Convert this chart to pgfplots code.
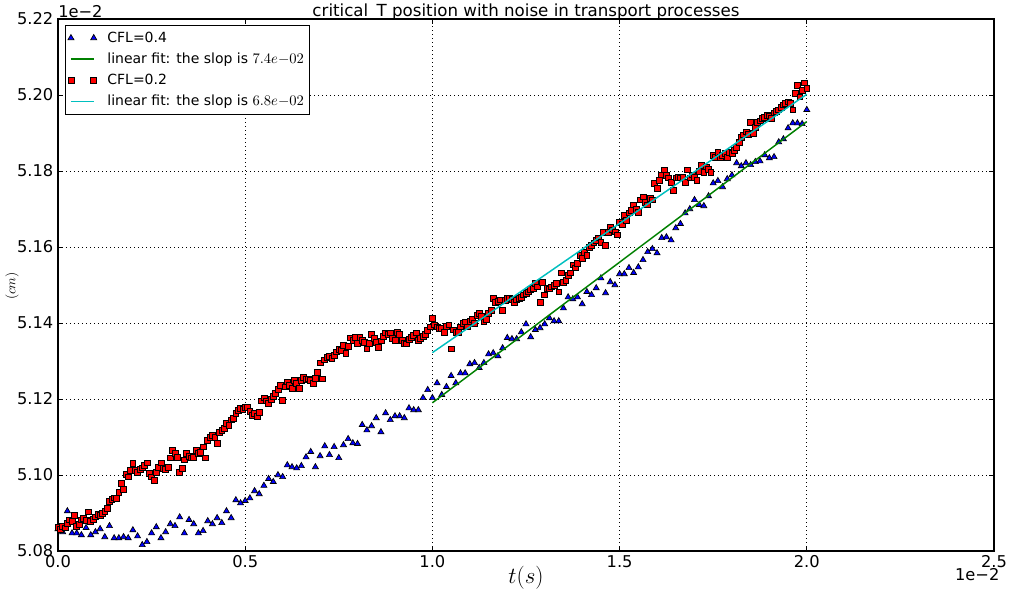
\documentclass[border=0pt]{standalone}
\usepackage{fontspec}
\setmainfont{DejaVu Sans}
\usepackage{pgfplots}
\pgfplotsset{compat=1.18}
\usepackage{pgfplotstable}

\definecolor{mplgreen}{rgb}{0,0.5,0}
\definecolor{mplcyan}{rgb}{0,0.75,0.75}

% legend pictures as matplotlib draws them
\pgfplotsset{
  twomarks/.style={legend image code/.code={%
    \draw[##1, only marks] plot coordinates {(0cm,0cm) (0.6cm,0cm)};}},
  fitline/.style={legend image code/.code={%
    \draw[draw=#1, line width=1.4pt] (0cm,0cm) -- (0.6cm,0cm);}},
}

% CFL=0.4 (x in 1e-2 s, y in 1e-2 cm)
\pgfplotstableread{
x y
0 5.0858
0.0125 5.0850
0.025 5.0905
0.0375 5.0847
0.05 5.0847
0.0625 5.0842
0.075 5.0861
0.0875 5.0842
0.1 5.0850
0.1125 5.0858
0.125 5.0837
0.1375 5.0866
0.15 5.0834
0.1625 5.0834
0.175 5.0837
0.1875 5.0834
0.2 5.0855
0.2125 5.0839
0.225 5.0816
0.2375 5.0824
0.25 5.0847
0.2625 5.0863
0.275 5.0834
0.2875 5.0850
0.3 5.0871
0.3125 5.0866
0.325 5.0889
0.3375 5.0847
0.35 5.0882
0.3625 5.0871
0.375 5.0847
0.3875 5.0853
0.4 5.0879
0.4125 5.0871
0.425 5.0887
0.4375 5.0874
0.45 5.0905
0.4625 5.0887
0.475 5.0934
0.4875 5.0926
0.5 5.0932
0.5125 5.0939
0.525 5.0958
0.5375 5.0950
0.55 5.0972
0.5625 5.0990
0.575 5.0982
0.5875 5.1000
0.6 5.0995
0.6125 5.1026
0.625 5.1021
0.6375 5.1018
0.65 5.1024
0.6625 5.1047
0.675 5.1061
0.6875 5.1021
0.7 5.1050
0.7125 5.1076
0.725 5.1053
0.7375 5.1074
0.75 5.1045
0.7625 5.1079
0.775 5.1095
0.7875 5.1084
0.8 5.1082
0.8125 5.1132
0.825 5.1118
0.8375 5.1129
0.85 5.1150
0.8625 5.1113
0.875 5.1163
0.8875 5.1145
0.9 5.1155
0.9125 5.1155
0.925 5.1150
0.9375 5.1176
0.95 5.1171
0.9625 5.1171
0.975 5.1203
0.9875 5.1224
1.0 5.1203
1.0125 5.1242
1.025 5.1211
1.0375 5.1232
1.05 5.1261
1.0625 5.1242
1.075 5.1268
1.0875 5.1268
1.1 5.1292
1.1125 5.1295
1.125 5.1282
1.1375 5.1295
1.15 5.1318
1.1625 5.1321
1.175 5.1313
1.1875 5.1334
1.2 5.1361
1.2125 5.1358
1.225 5.1358
1.2375 5.1376
1.25 5.1397
1.2625 5.1363
1.275 5.1382
1.2875 5.1387
1.3 5.1397
1.3125 5.1413
1.325 5.1405
1.3375 5.1405
1.35 5.1439
1.3625 5.1468
1.375 5.1463
1.3875 5.1468
1.4 5.1450
1.4125 5.1482
1.425 5.1474
1.4375 5.1492
1.45 5.1518
1.4625 5.1479
1.475 5.1508
1.4875 5.1500
1.5 5.1529
1.5125 5.1529
1.525 5.1545
1.5375 5.1532
1.55 5.1547
1.5625 5.1566
1.575 5.1587
1.5875 5.1595
1.6 5.1584
1.6125 5.1624
1.625 5.1626
1.6375 5.1618
1.65 5.1650
1.6625 5.1661
1.675 5.1689
1.6875 5.1700
1.7 5.1724
1.7125 5.1711
1.725 5.1708
1.7375 5.1734
1.75 5.1768
1.7625 5.1774
1.775 5.1758
1.7875 5.1779
1.8 5.1789
1.8125 5.1821
1.825 5.1813
1.8375 5.1821
1.85 5.1816
1.8625 5.1824
1.875 5.1826
1.8875 5.1842
1.9 5.1834
1.9125 5.1837
1.925 5.1876
1.9375 5.1884
1.95 5.1913
1.9625 5.1926
1.975 5.1926
1.9875 5.1924
2.0 5.1961
}\cflfour

% CFL=0.2
\pgfplotstableread{
x y
0 5.0863
0.00625 5.0858
0.0125 5.0866
0.01875 5.0861
0.025 5.0872
0.03125 5.0882
0.0375 5.0877
0.04375 5.0893
0.05 5.0866
0.05625 5.0870
0.0625 5.0882
0.06875 5.0887
0.075 5.0880
0.08125 5.0903
0.0875 5.0878
0.09375 5.0884
0.1 5.0890
0.10625 5.0897
0.1125 5.0894
0.11875 5.0899
0.125 5.0905
0.13125 5.0913
0.1375 5.0930
0.14375 5.0937
0.15 5.0940
0.15625 5.0938
0.1625 5.0955
0.16875 5.0978
0.175 5.0962
0.18125 5.1002
0.1875 5.0995
0.19375 5.1013
0.2 5.1031
0.20625 5.1012
0.2125 5.1008
0.21875 5.1014
0.225 5.1019
0.23125 5.1025
0.2375 5.1032
0.24375 5.1005
0.25 5.0995
0.25625 5.0987
0.2625 5.1008
0.26875 5.1020
0.275 5.1032
0.28125 5.1017
0.2875 5.1016
0.29375 5.1020
0.3 5.1045
0.30625 5.1066
0.3125 5.1058
0.31875 5.1047
0.325 5.1008
0.33125 5.1018
0.3375 5.1040
0.34375 5.1058
0.35 5.1050
0.35625 5.1045
0.3625 5.1047
0.36875 5.1066
0.375 5.1058
0.38125 5.1060
0.3875 5.1074
0.39375 5.1045
0.4 5.1092
0.40625 5.1098
0.4125 5.1105
0.41875 5.1100
0.425 5.1084
0.43125 5.1113
0.4375 5.1118
0.44375 5.1122
0.45 5.1137
0.45625 5.1130
0.4625 5.1145
0.46875 5.1148
0.475 5.1162
0.48125 5.1170
0.4875 5.1176
0.49375 5.1172
0.5 5.1179
0.50625 5.1178
0.5125 5.1168
0.51875 5.1158
0.525 5.1162
0.53125 5.1155
0.5375 5.1165
0.54375 5.1195
0.55 5.1203
0.55625 5.1195
0.5625 5.1189
0.56875 5.1200
0.575 5.1208
0.58125 5.1216
0.5875 5.1225
0.59375 5.1237
0.6 5.1197
0.60625 5.1232
0.6125 5.1245
0.61875 5.1236
0.625 5.1229
0.63125 5.1250
0.6375 5.1242
0.64375 5.1229
0.65 5.1248
0.65625 5.1258
0.6625 5.1252
0.66875 5.1253
0.675 5.1248
0.68125 5.1242
0.6875 5.1255
0.69375 5.1271
0.7 5.1295
0.70625 5.1253
0.7125 5.1303
0.71875 5.1310
0.725 5.1313
0.73125 5.1308
0.7375 5.1316
0.74375 5.1324
0.75 5.1330
0.75625 5.1329
0.7625 5.1342
0.76875 5.1321
0.775 5.1339
0.78125 5.1361
0.7875 5.1355
0.79375 5.1363
0.8 5.1347
0.80625 5.1363
0.8125 5.1355
0.81875 5.1350
0.825 5.1332
0.83125 5.1347
0.8375 5.1371
0.84375 5.1360
0.85 5.1350
0.85625 5.1337
0.8625 5.1353
0.86875 5.1365
0.875 5.1374
0.88125 5.1370
0.8875 5.1374
0.89375 5.1360
0.9 5.1355
0.90625 5.1376
0.9125 5.1371
0.91875 5.1355
0.925 5.1347
0.93125 5.1345
0.9375 5.1358
0.94375 5.1362
0.95 5.1368
0.95625 5.1374
0.9625 5.1355
0.96875 5.1360
0.975 5.1366
0.98125 5.1371
0.9875 5.1380
0.99375 5.1390
1.0 5.1413
1.00625 5.1395
1.0125 5.1390
1.01875 5.1387
1.025 5.1385
1.03125 5.1376
1.0375 5.1392
1.04375 5.1395
1.05 5.1332
1.05625 5.1382
1.0625 5.1376
1.06875 5.1376
1.075 5.1390
1.08125 5.1398
1.0875 5.1403
1.09375 5.1390
1.1 5.1405
1.10625 5.1410
1.1125 5.1400
1.11875 5.1421
1.125 5.1426
1.13125 5.1418
1.1375 5.1403
1.14375 5.1410
1.15 5.1425
1.15625 5.1434
1.1625 5.1466
1.16875 5.1455
1.175 5.1458
1.18125 5.1461
1.1875 5.1434
1.19375 5.1460
1.2 5.1466
1.20625 5.1466
1.2125 5.1462
1.21875 5.1455
1.225 5.1461
1.23125 5.1465
1.2375 5.1468
1.24375 5.1474
1.25 5.1478
1.25625 5.1482
1.2625 5.1488
1.26875 5.1492
1.275 5.1505
1.28125 5.1495
1.2875 5.1455
1.29375 5.1508
1.3 5.1474
1.30625 5.1492
1.3125 5.1490
1.31875 5.1495
1.325 5.1500
1.33125 5.1505
1.3375 5.1482
1.34375 5.1532
1.35 5.1508
1.35625 5.1513
1.3625 5.1525
1.36875 5.1532
1.375 5.1553
1.38125 5.1545
1.3875 5.1558
1.39375 5.1579
1.4 5.1570
1.40625 5.1587
1.4125 5.1579
1.41875 5.1600
1.425 5.1605
1.43125 5.1611
1.4375 5.1618
1.44375 5.1624
1.45 5.1613
1.45625 5.1639
1.4625 5.1605
1.46875 5.1639
1.475 5.1653
1.48125 5.1645
1.4875 5.1640
1.49375 5.1632
1.5 5.1666
1.50625 5.1660
1.5125 5.1684
1.51875 5.1671
1.525 5.1690
1.53125 5.1697
1.5375 5.1711
1.54375 5.1700
1.55 5.1692
1.55625 5.1724
1.5625 5.1732
1.56875 5.1718
1.575 5.1711
1.58125 5.1729
1.5875 5.1724
1.59375 5.1768
1.6 5.1755
1.60625 5.1776
1.6125 5.1790
1.61875 5.1803
1.625 5.1789
1.63125 5.1782
1.6375 5.1771
1.64375 5.1750
1.65 5.1782
1.65625 5.1784
1.6625 5.1782
1.66875 5.1784
1.675 5.1771
1.68125 5.1803
1.6875 5.1782
1.69375 5.1790
1.7 5.1784
1.70625 5.1776
1.7125 5.1800
1.71875 5.1816
1.725 5.1797
1.73125 5.1811
1.7375 5.1805
1.74375 5.1797
1.75 5.1842
1.75625 5.1835
1.7625 5.1850
1.76875 5.1837
1.775 5.1842
1.78125 5.1847
1.7875 5.1837
1.79375 5.1850
1.8 5.1847
1.80625 5.1855
1.8125 5.1863
1.81875 5.1876
1.825 5.1889
1.83125 5.1895
1.8375 5.1903
1.84375 5.1897
1.85 5.1929
1.85625 5.1900
1.8625 5.1916
1.86875 5.1929
1.875 5.1932
1.88125 5.1939
1.8875 5.1942
1.89375 5.1947
1.9 5.1945
1.90625 5.1939
1.9125 5.1953
1.91875 5.1958
1.925 5.1961
1.93125 5.1968
1.9375 5.1974
1.94375 5.1978
1.95 5.1982
1.95625 5.1979
1.9625 5.1961
1.96875 5.2005
1.975 5.2026
1.98125 5.1995
1.9875 5.2013
1.99375 5.2032
2.0 5.2018
}\cfltwo

\begin{document}
\begin{tikzpicture}
\begin{axis}[
  name=ax,
  scale only axis,
  width=702pt, height=399pt,
  xmin=0, xmax=2.5, ymin=5.08, ymax=5.22,
  xtick={0,0.5,1,1.5,2,2.5},
  ytick={5.08,5.10,5.12,5.14,5.16,5.18,5.20,5.22},
  /pgf/number format/assume math mode=true,
  xticklabel style={/pgf/number format/.cd,fixed,fixed zerofill,precision=1},
  yticklabel style={/pgf/number format/.cd,fixed,fixed zerofill,precision=2},
  ticklabel style={font=\fontsize{12.2}{14}\selectfont},
  tick align=inside,
  major tick length=4pt,
  every tick/.style={black, line width=0.6pt},
  axis line style={line width=0.8pt},
  grid=major,
  major grid style={black, line width=0.5pt, dash pattern=on 1pt off 2pt},
  clip mode=individual,
  title={critical\_T position with noise in transport processes},
  every axis title/.style={font=\fontsize{12.5}{14}\selectfont, at={(axis description cs:0.5,1)}, anchor=base, yshift=2pt},
  xlabel={$t(s)$},
  xlabel style={at={(axis description cs:0.5,-0.051)}, anchor=center, font=\fontsize{17.7}{20}\selectfont},
  ylabel={$(cm)$},
  ylabel style={at={(axis description cs:-0.049,0.498)}, anchor=center, font=\fontsize{10}{12}\selectfont},
  legend style={at={(axis description cs:0.0075,0.989)}, anchor=north west,
    fill=white,
    font=\fontsize{10.5}{12}\selectfont, row sep=2.5pt, column sep=6pt,
    inner xsep=2pt, inner ysep=3pt},
  legend cell align=left,
]
\addplot[only marks, mark=triangle*, mark size=2.6pt,
  mark options={fill=blue, draw=black, line width=0.5pt}, twomarks]
  table {\cflfour};
\addplot[draw=mplgreen, line width=1.1pt, fitline=mplgreen] coordinates {(1.0,5.1190) (2.0,5.1930)};
\addplot[only marks, mark=square*, mark size=2.2pt,
  mark options={fill=red, draw=black, line width=0.5pt}, twomarks]
  table {\cfltwo};
\addplot[draw=mplcyan, line width=1.1pt, fitline=mplcyan] coordinates {(1.0,5.1322) (2.0,5.2002)};
\legend{CFL=0.4, linear fit: the slop is $7.4e{-}02$, CFL=0.2, linear fit: the slop is $6.8e{-}02$}
\node[anchor=west, font=\fontsize{12.2}{14}\selectfont, inner sep=0pt] at (axis description cs:0,1.013) {1e−2};
\node[anchor=east, font=\fontsize{12.2}{14}\selectfont, inner sep=0pt] at (axis description cs:1.006,-0.045) {1e−2};
\end{axis}
\pgfresetboundingbox
\useasboundingbox ([xshift=-43.5pt,yshift=-32.25pt]ax.south west) rectangle ([xshift=11.25pt,yshift=14.25pt]ax.north east);
\end{tikzpicture}
\end{document}
